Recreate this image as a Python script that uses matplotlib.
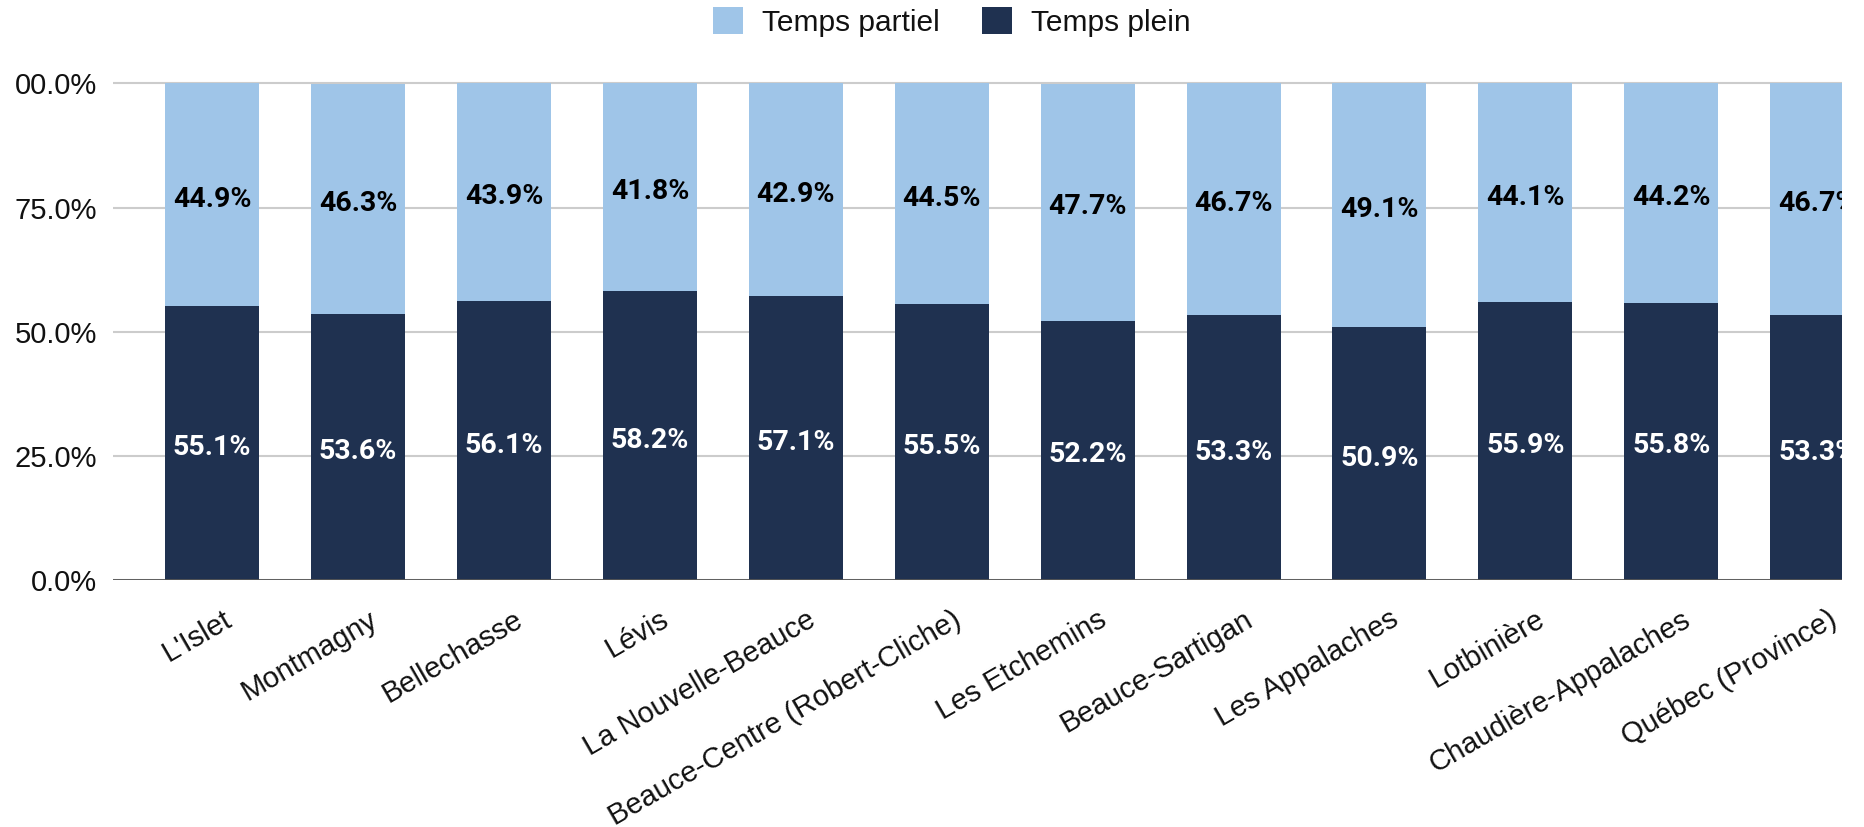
import matplotlib
matplotlib.use("Agg")
import matplotlib.pyplot as plt
import matplotlib.transforms as mtransforms
from matplotlib.patches import Patch

categories = ["L'Islet", "Montmagny", "Bellechasse", "Lévis", "La Nouvelle-Beauce",
              "Beauce-Centre (Robert-Cliche)", "Les Etchemins", "Beauce-Sartigan",
              "Les Appalaches", "Lotbinière", "Chaudière-Appalaches", "Québec (Province)"]
temps_plein = [55.1, 53.6, 56.1, 58.2, 57.1, 55.5, 52.2, 53.3, 50.9, 55.9, 55.8, 53.3]
temps_partiel = [44.9, 46.3, 43.9, 41.8, 42.9, 44.5, 47.7, 46.7, 49.1, 44.1, 44.2, 46.7]
y_ticks = [0, 25, 50, 75, 100]
y_tick_labels = ["0.0%", "25.0%", "50.0%", "75.0%", "00.0%"]

C_LIGHT = "#9FC5E8"
C_DARK = "#1F3150"
W, H = 1864, 827
fig = plt.figure(figsize=(W / 100, H / 100), dpi=100)
ymax = 102
top_px = 580 - ymax * 4.965
ax = fig.add_axes([113 / W, (H - 580) / H, (1842 - 113) / W, (580 - top_px) / H])

x = list(range(len(categories)))
bw = 0.644
ax.bar(x, temps_plein, width=bw, color=C_DARK, zorder=3)
ax.bar(x, temps_partiel, width=bw, bottom=temps_plein, color=C_LIGHT, zorder=3)

lab_font = dict(family=["Roboto", "DejaVu Sans"], fontweight="bold", fontsize=20.5)
down = ax.transData + mtransforms.ScaledTranslation(0, -0.045, fig.dpi_scale_trans)
for i in x:
    ax.text(i, temps_plein[i] / 2, f"{temps_plein[i]:.1f}%", ha="center", va="center",
            color="white", zorder=4, transform=down, clip_on=True, **lab_font)
    ax.text(i, temps_plein[i] + temps_partiel[i] / 2, f"{temps_partiel[i]:.1f}%",
            ha="center", va="center", color="black", zorder=4, transform=down,
            clip_on=True, **lab_font)

ax.set_xlim(-0.68, 11.17)
ax.set_ylim(0, ymax)
ax.set_yticks(y_ticks)
ax.set_yticklabels(y_tick_labels, family="Liberation Sans", fontsize=21, color="#111111")
ax.set_xticks(x)
ax.set_xticklabels(categories, family="Liberation Sans", fontsize=21, color="#111111",
                   rotation=30, ha="right", va="center", rotation_mode="anchor")
ax.tick_params(axis="x", length=0, pad=27)
ax.tick_params(axis="y", length=0, pad=11.5)
for s in ax.spines.values():
    s.set_visible(False)
ax.grid(axis="y", color="#CCCCCC", linewidth=1.5, zorder=0)
ax.set_axisbelow(True)
ax.axhline(0, color="#555555", linewidth=2, zorder=5)

handles = [Patch(facecolor=C_LIGHT, label="Temps partiel"),
           Patch(facecolor=C_DARK, label="Temps plein")]
fig.legend(handles=handles, loc="center", bbox_to_anchor=(952 / W, 1 - 22 / H), ncol=2,
           frameon=False, prop=dict(family="Liberation Sans", size=21.5),
           handlelength=1.0, handleheight=1.0, handletextpad=0.65, columnspacing=1.4,
           labelcolor="#111111")

fig.canvas.draw()
offset = mtransforms.ScaledTranslation(0.17, 0, fig.dpi_scale_trans)
for tick in ax.xaxis.get_major_ticks():
    tick.label1.set_transform(tick.label1.get_transform() + offset)

fig.savefig("out.png", dpi=100, facecolor="white")
